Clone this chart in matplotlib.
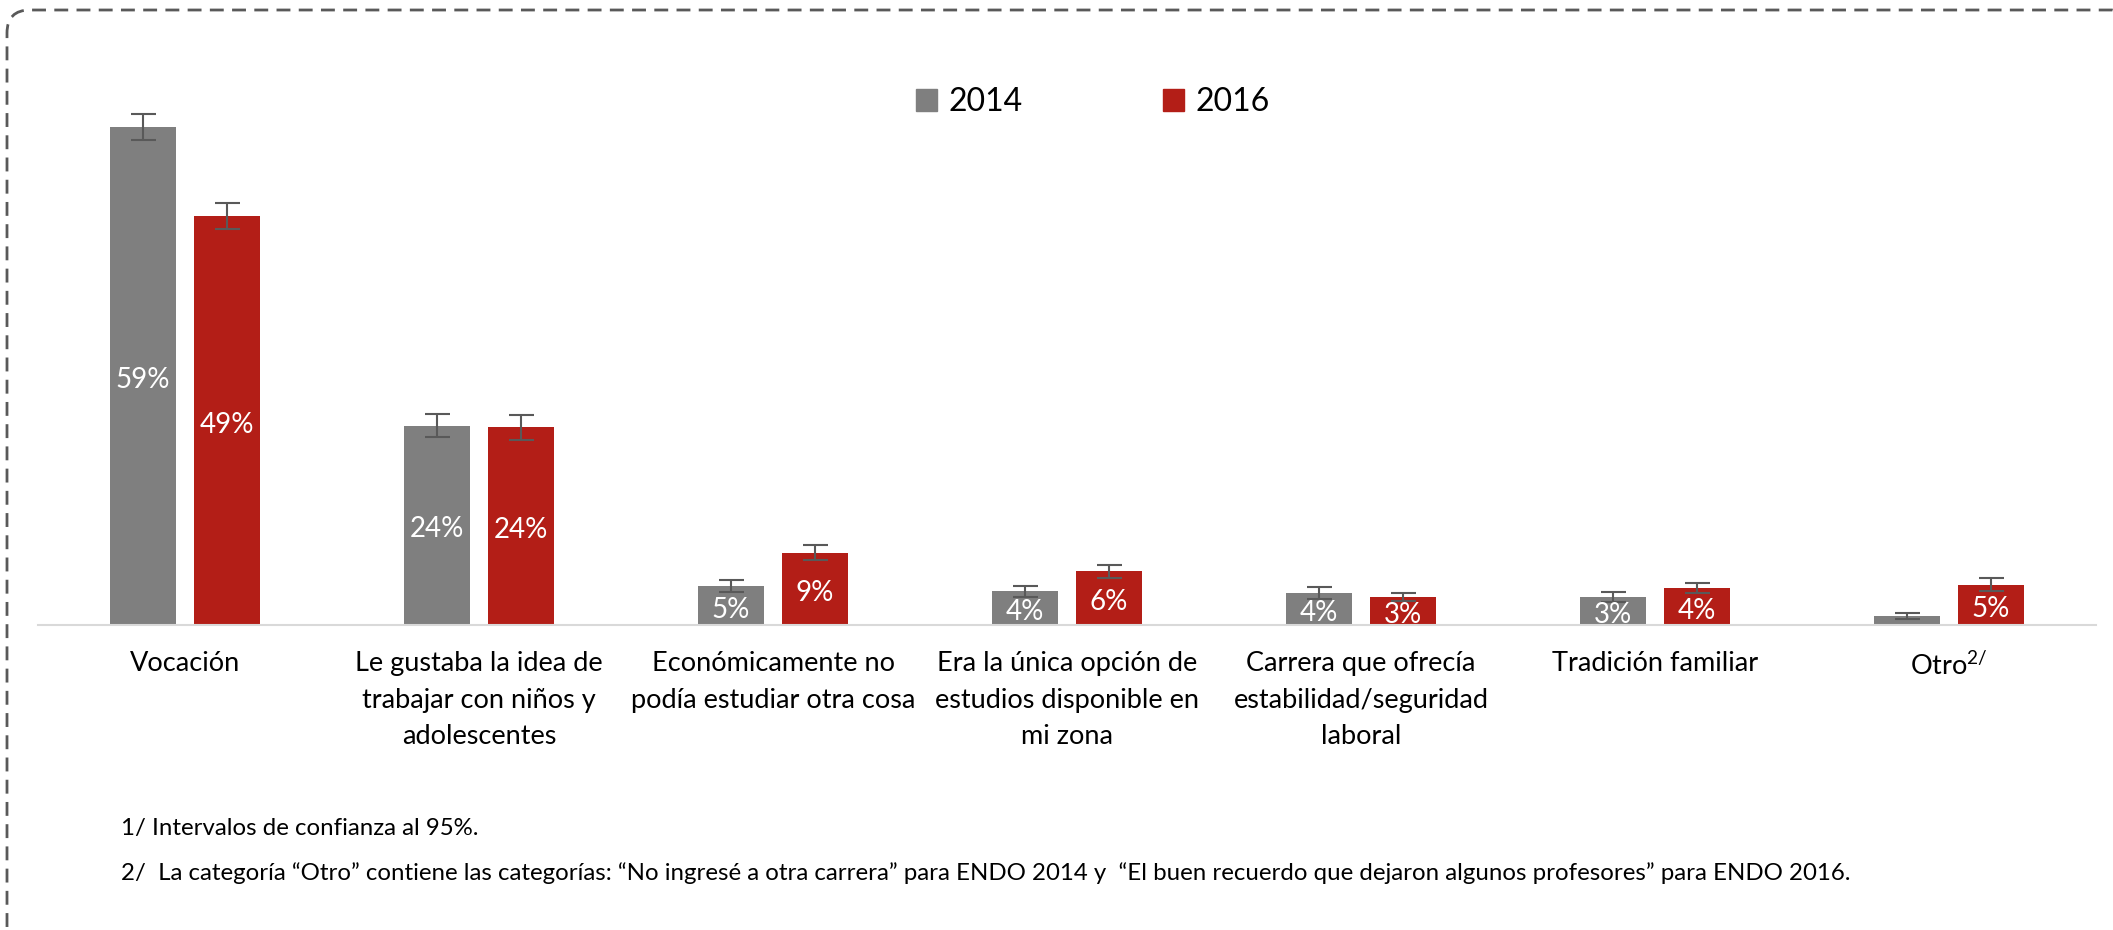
import numpy as np
import matplotlib
matplotlib.use("Agg")
import matplotlib.pyplot as plt
import matplotlib.patches as mpatches
from matplotlib.transforms import IdentityTransform

plt.rcParams["font.family"] = ["Lato", "DejaVu Sans"]
plt.rcParams["mathtext.fontset"] = "custom"
plt.rcParams["mathtext.rm"] = "Lato"

# data (percent)
categories = [
    "Vocación",
    "Le gustaba la idea de\ntrabajar con niños y\nadolescentes",
    "Económicamente no\npodía estudiar otra cosa",
    "Era la única opción de\nestudios disponible en\nmi zona",
    "Carrera que ofrecía\nestabilidad/seguridad\nlaboral",
    "Tradición familiar",
    "Otro$^{\\mathrm{2/}}$",
]
v2014 = [59.2, 23.7, 4.6, 4.0, 3.8, 3.3, 1.1]
v2016 = [48.6, 23.5, 8.6, 6.4, 3.3, 4.4, 4.8]
err2014 = [1.55, 1.4, 0.7, 0.67, 0.7, 0.57, 0.38]
err2016 = [1.6, 1.5, 0.87, 0.77, 0.5, 0.6, 0.77]
labels2014 = ["59%", "24%", "5%", "4%", "4%", "3%", ""]
labels2016 = ["49%", "24%", "9%", "6%", "3%", "4%", "5%"]

notes = [
    "1/ Intervalos de confianza al 95%.",
    "2/  La categoría \u201cOtro\u201d contiene las categorías: \u201cNo ingresé a otra carrera\u201d para ENDO 2014 y  "
    "\u201cEl buen recuerdo que dejaron algunos profesores\u201d para ENDO 2016.",
]

gray = "#7f7f7f"
red = "#b31e17"
err_color = "#595959"

W, H = 2113, 930
fig = plt.figure(figsize=(W / 100, H / 100), dpi=100)
ax = fig.add_axes([38 / W, (H - 625) / H, (2096 - 38) / W, 547 / H])

x = np.arange(len(categories))
bw = 0.225
off = 0.1425

ax.bar(x - off, v2014, bw, color=gray, zorder=1)
ax.bar(x + off, v2016, bw, color=red, zorder=1)
ax.errorbar(x - off, v2014, yerr=err2014, fmt="none", ecolor=err_color,
            elinewidth=1.5, capsize=9, capthick=1.5, zorder=3)
ax.errorbar(x + off, v2016, yerr=err2016, fmt="none", ecolor=err_color,
            elinewidth=1.5, capsize=9, capthick=1.5, zorder=3)

for xs, vals, labs in [(x - off, v2014, labels2014), (x + off, v2016, labels2016)]:
    for xi, v, lab in zip(xs, vals, labs):
        if lab:
            t = ax.annotate(lab, (xi, v / 2), xytext=(0, -3), textcoords="offset points",
                            ha="center", va="center", color="white", fontsize=20, zorder=4)
            t.set_clip_on(True)
            t.set_clip_box(ax.bbox)

ax.set_xlim(-0.5, len(categories) - 0.5)
ax.set_ylim(0, 65)
ax.set_yticks([])
ax.set_xticks(x)
ax.set_xticklabels(categories, fontsize=19.5, linespacing=1.57)
ax.tick_params(axis="x", length=0, pad=19)
for s in ["top", "left", "right"]:
    ax.spines[s].set_visible(False)
ax.spines["bottom"].set_color("#d9d9d9")
ax.spines["bottom"].set_linewidth(1.5)

handles = [mpatches.Patch(color=gray, label="2014"), mpatches.Patch(color=red, label="2016")]
fig.legend(handles=handles, ncol=2, frameon=False, fontsize=23, loc="center",
           bbox_to_anchor=(1093 / W, 1 - 102 / H), handlelength=0.66, handleheight=0.66,
           handletextpad=0.35, columnspacing=4.4)

fig.text(121 / W, 1 - 828 / H, notes[0], fontsize=17.3, va="center")
fig.text(121 / W, 1 - 873 / H, notes[1], fontsize=17.3, va="center")

# dashed rounded frame, running off the right and bottom edges
frame = mpatches.FancyBboxPatch((7, -20), 2128, 940, boxstyle="round,pad=0,rounding_size=23",
                                transform=IdentityTransform(), fill=False,
                                edgecolor="#595959", linewidth=2, linestyle=(0, (5, 3)))
fig.add_artist(frame)

fig.savefig("out.png", dpi=100)
